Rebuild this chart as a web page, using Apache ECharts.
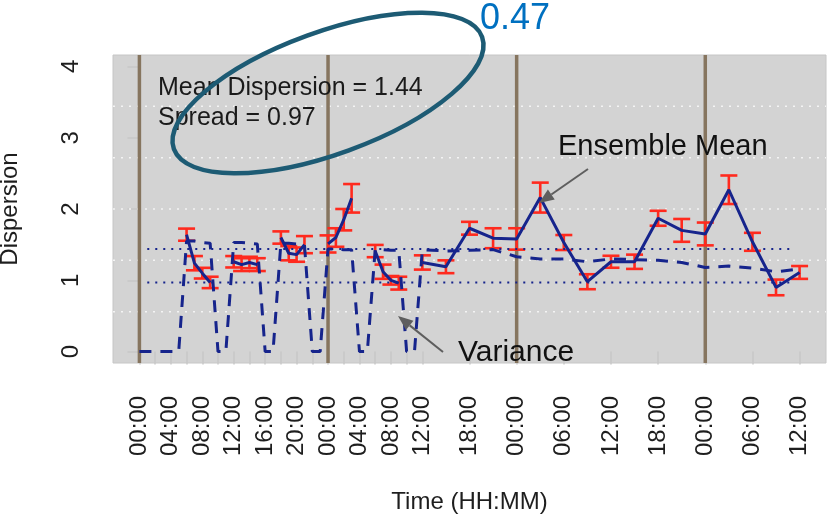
<!DOCTYPE html>
<html>
<head>
<meta charset="utf-8">
<script src="https://cdn.jsdelivr.net/npm/echarts@6/dist/echarts.min.js"></script>
<style>
  html, body { margin: 0; padding: 0; background: #ffffff; }
  #chart { width: 827px; height: 519px; }
</style>
</head>
<body>
<div id="chart"></div>
<script>
// Forecast hours since the first 00:00 (hourly for 36 h, then every 3 h)
const hours = [
  0, 1, 2, 3, 4, 5, 6, 7, 8, 9, 10, 11, 12, 13, 14, 15, 16, 17, 18,
  19, 20, 21, 22, 23, 24, 25, 26, 27, 28, 29, 30, 31, 32, 33, 34, 35, 36,
  39, 42, 45, 48, 51, 54, 57, 60, 63, 66, 69, 72, 75, 78, 81, 84
];

// Ensemble variance at each hour
const variance = [
  0, 0, 0, 0, 0, 0, 1.55, 1.55, 1.53, 1.52, 0, 0, 1.53, 1.53, 1.52, 1.51, 0, 0, 1.52,
  1.52, 1.51, 1.50, 0, 0, 1.44, 1.44, 1.43, 1.43, 0, 0, 1.43, 1.43, 1.42, 1.42, 0, 0, 1.43,
  1.41, 1.42, 1.43, 1.33, 1.30, 1.30, 1.26, 1.30, 1.29, 1.28, 1.25, 1.18, 1.20, 1.17, 1.12, 1.16
];

// Ensemble mean dispersion (null where the ensemble has no spread)
const ensembleMean = [
  null, null, null, null, null, null, 1.64, 1.24, 1.10, 0.97, null, null, 1.26, 1.22, 1.25, 1.22, null, null, 1.60,
  1.38, 1.36, 1.50, null, null, 1.51, 1.60, 1.85, 2.15, null, null, 1.41, 1.12, 1.00, 0.96, null, null, 1.25,
  1.19, 1.73, 1.59, 1.58, 2.16, 1.53, 0.98, 1.26, 1.26, 1.87, 1.70, 1.65, 2.27, 1.54, 0.90, 1.11
];

// Half-length of the error bar around each mean
const meanError = [
  null, null, null, null, null, null, 0.085, 0.10, 0.075, 0.08, null, null, 0.08, 0.09, 0.08, 0.09, null, null, 0.086,
  0.10, 0.10, 0.12, null, null, 0.12, 0.13, 0.15, 0.20, null, null, 0.086, 0.10, 0.06, 0.09, null, null, 0.10,
  0.09, 0.09, 0.14, 0.15, 0.21, 0.105, 0.105, 0.084, 0.10, 0.105, 0.16, 0.16, 0.20, 0.126, 0.11, 0.09
];

const meanDispersion = 1.44;
const spread = 0.97;
const dayStarts = [0, 24, 48, 72];

const tickHours = [0, 2, 4, 6, 8, 10, 12, 14, 16, 18, 20, 22, 24, 26, 28, 30, 32, 34, 36, 42, 48, 54, 60, 66, 72, 78, 84];
const labelHours = [0, 4, 8, 12, 16, 20, 24, 28, 32, 36, 42, 48, 54, 60, 66, 72, 78, 84];
const yTicks = [0, 1, 2, 3, 4];

// Axis ranges padded by 4% on each side
const xMin = -3.36, xMax = 87.36;
const yMin = -0.16, yMax = 4.16;
const refStart = 1, refEnd = 83;

const NAVY = '#16248C';
const RED = '#FF2A1E';
const FONT = 'Liberation Sans, Arial, Helvetica, sans-serif';

const fmtHour = h => String(h % 24).padStart(2, '0') + ':00';

// Light dotted background grid: range split into six equal bands
const gridLevels = [1, 2, 3, 4, 5].map(k => yMin + k * (yMax - yMin) / 6);

const chart = echarts.init(document.getElementById('chart'), null, { renderer: 'canvas' });

const hLineSeries = (levels, style) => ({
  type: 'custom',
  silent: true,
  data: levels.map(v => [v]),
  encode: { y: 0 },
  renderItem: (params, api) => {
    const v = api.value(0);
    const a = api.coord([xMin, v]);
    const b = api.coord([xMax, v]);
    return { type: 'line', shape: { x1: a[0], y1: a[1], x2: b[0], y2: b[1] }, style: style };
  }
});

const option = {
  animation: false,
  backgroundColor: '#ffffff',
  grid: {
    left: 113, top: 55, right: 1, bottom: 156,
    containLabel: false, outerBoundsMode: 'none',
    show: true, backgroundColor: '#D3D3D3', borderColor: '#C6C6C6', borderWidth: 1
  },
  xAxis: {
    type: 'value', min: xMin, max: xMax, offset: 3,
    axisLine: { show: false },
    splitLine: { show: false },
    axisTick: { show: true, customValues: tickHours, length: 13, lineStyle: { color: '#C8C8C8', width: 1.5 } },
    axisLabel: {
      customValues: labelHours, formatter: v => fmtHour(Math.round(v)),
      rotate: 90, margin: 30, fontSize: 24, color: '#1E1E1E', fontFamily: FONT
    },
    name: 'Time (HH:MM)', nameLocation: 'middle', nameGap: 124,
    nameTextStyle: { fontSize: 24, color: '#1E1E1E', fontFamily: FONT }
  },
  yAxis: {
    type: 'value', min: yMin, max: yMax, offset: 3,
    axisLine: { show: false },
    splitLine: { show: false },
    axisTick: { show: true, customValues: yTicks, length: 12, lineStyle: { color: '#C8C8C8', width: 1.5 } },
    axisLabel: {
      customValues: yTicks, rotate: 90, margin: 27, fontSize: 24, color: '#1E1E1E', fontFamily: FONT
    },
    name: 'Dispersion', nameLocation: 'middle', nameGap: 88,
    nameTextStyle: { fontSize: 24, color: '#1E1E1E', fontFamily: FONT }
  },
  series: [
    hLineSeries(gridLevels, { stroke: '#F4F4F4', lineWidth: 1.5, lineDash: [2, 6] }),
    {
      // midnight markers
      type: 'custom',
      silent: true,
      data: dayStarts.map(h => [h]),
      encode: { x: 0 },
      renderItem: (params, api) => {
        const h = api.value(0);
        const a = api.coord([h, yMin]);
        const b = api.coord([h, yMax]);
        return { type: 'line', shape: { x1: a[0], y1: a[1], x2: b[0], y2: b[1] }, style: { stroke: '#86755F', lineWidth: 3.5 } };
      }
    },
    {
      type: 'line', silent: true, symbol: 'none',
      data: [[refStart, meanDispersion], [refEnd, meanDispersion]],
      lineStyle: { color: NAVY, width: 2, type: [2, 6] }
    },
    {
      type: 'line', silent: true, symbol: 'none',
      data: [[refStart, spread], [refEnd, spread]],
      lineStyle: { color: NAVY, width: 2, type: [2, 6] }
    },
    {
      name: 'Variance', type: 'line', symbol: 'none',
      data: hours.map((h, i) => [h, variance[i]]),
      lineStyle: { color: NAVY, width: 3, type: [12, 9] }
    },
    {
      name: 'Ensemble Mean', type: 'line', symbol: 'none', connectNulls: false,
      data: hours.map((h, i) => [h, ensembleMean[i] == null ? '-' : ensembleMean[i]]),
      lineStyle: { color: NAVY, width: 3 }
    },
    {
      // error bars around the ensemble mean
      type: 'custom',
      data: hours.map((h, i) => [h, ensembleMean[i], meanError[i]]).filter(d => d[1] != null),
      encode: { x: 0, y: 1 },
      renderItem: (params, api) => {
        const h = api.value(0), m = api.value(1), e = api.value(2);
        const top = api.coord([h, m + e]);
        const bot = api.coord([h, m - e]);
        const w = 8.5;
        const st = { stroke: RED, lineWidth: 2.6 };
        return {
          type: 'group',
          children: [
            { type: 'line', shape: { x1: top[0], y1: top[1], x2: bot[0], y2: bot[1] }, style: st },
            { type: 'line', shape: { x1: top[0] - w, y1: top[1], x2: top[0] + w, y2: top[1] }, style: st },
            { type: 'line', shape: { x1: bot[0] - w, y1: bot[1], x2: bot[0] + w, y2: bot[1] }, style: st }
          ]
        };
      }
    }
  ]
};

chart.setOption(option);

// Annotations: summary text, pointers to the two curves, highlighted box
const arrow = (x1, y1, x2, y2) => {
  const ang = Math.atan2(y2 - y1, x2 - x1);
  const len = 15, half = 6;
  const bx = x2 - len * Math.cos(ang), by = y2 - len * Math.sin(ang);
  const px = -Math.sin(ang) * half, py = Math.cos(ang) * half;
  return [
    { type: 'line', z: 100, shape: { x1: x1, y1: y1, x2: bx, y2: by }, style: { stroke: '#5E5E5E', lineWidth: 2 } },
    { type: 'polygon', z: 100, shape: { points: [[x2, y2], [bx + px, by + py], [bx - px, by - py]] }, style: { fill: '#5E5E5E' } }
  ];
};

chart.setOption({
  graphic: [
    { type: 'text', z: 100, left: 158, top: 76, style: { text: 'Mean Dispersion = ' + meanDispersion.toFixed(2), fontSize: 25, fill: '#1A1A1A', fontFamily: FONT } },
    { type: 'text', z: 100, left: 158, top: 106, style: { text: 'Spread = ' + spread.toFixed(2), fontSize: 25, fill: '#1A1A1A', fontFamily: FONT } },
    { type: 'text', z: 100, left: 558, top: 132, style: { text: 'Ensemble Mean', fontSize: 29, fill: '#111111', fontFamily: FONT } },
    { type: 'text', z: 100, left: 458, top: 338, style: { text: 'Variance', fontSize: 30, fill: '#111111', fontFamily: FONT } },
    { type: 'text', z: 100, left: 480, top: 1, style: { text: '0.47', fontSize: 36, fill: '#0070C0', fontFamily: FONT } },
    ...arrow(588, 169, 539, 203),
    ...arrow(443, 352, 398, 316),
    {
      type: 'ellipse', z: 110,
      x: 328, y: 93, rotation: 20 * Math.PI / 180,
      shape: { cx: 0, cy: 0, rx: 164, ry: 61 },
      style: { fill: 'none', stroke: '#1D5B74', lineWidth: 4.5 }
    }
  ]
});
</script>
</body>
</html>
